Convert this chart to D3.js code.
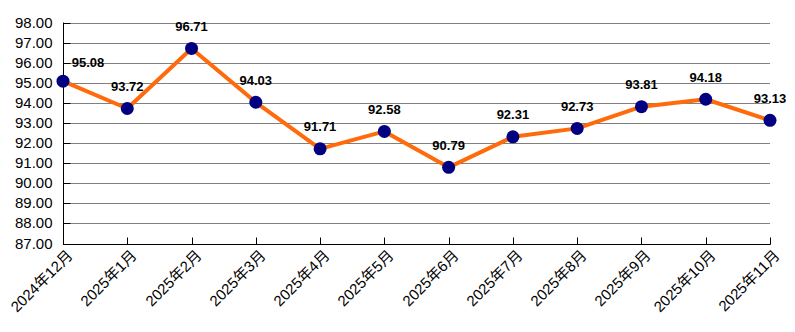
<!DOCTYPE html>
<html>
<head>
<meta charset="utf-8">
<script src="https://cdn.jsdelivr.net/npm/d3@7"></script>
<style>
  html, body { margin: 0; padding: 0; background: #fff; }
  svg { display: block; }
  text { font-family: "Liberation Sans", Arial, "Noto Sans CJK SC", sans-serif; }
</style>
</head>
<body>
<svg id="chart" width="795" height="332"></svg>
<script>
// Monthly index values
const categories = ["2024年12月", "2025年1月", "2025年2月", "2025年3月", "2025年4月", "2025年5月",
  "2025年6月", "2025年7月", "2025年8月", "2025年9月", "2025年10月", "2025年11月"];
const values = [95.08, 93.72, 96.71, 94.03, 91.71, 92.58, 90.79, 92.31, 92.73, 93.81, 94.18, 93.13];
const yTicks = [87, 88, 89, 90, 91, 92, 93, 94, 95, 96, 97, 98];

const svg = d3.select("#chart");
const plotLeft = 63, plotRight = 770, plotTop = 22.5, plotBottom = 243.5;

const x = d3.scalePoint().domain(categories).range([plotLeft, plotRight]);
const y = d3.scaleLinear().domain([87, 98]).range([plotBottom, plotTop]);

// Horizontal gridlines
svg.append("g")
  .selectAll("line")
  .data(yTicks.filter(d => d !== 87))
  .join("line")
  .attr("x1", plotLeft).attr("x2", plotRight)
  .attr("y1", d => Math.round(y(d)) + 0.5).attr("y2", d => Math.round(y(d)) + 0.5)
  .attr("stroke", "#808080").attr("stroke-width", 1);

// Y axis: inward ticks, labels on the left
const yAxis = svg.append("g")
  .attr("transform", `translate(${plotLeft + 0.5},0)`)
  .call(d3.axisLeft(y).tickValues(yTicks).tickSize(-7).tickPadding(18).tickFormat(d3.format(".2f")));
yAxis.selectAll(".tick").attr("transform", d => `translate(0,${Math.round(y(d)) + 0.5})`);
yAxis.selectAll("line").attr("stroke", "#000");
yAxis.select(".domain").attr("stroke", "#000").attr("d", `M0,${plotTop}V${plotBottom + 0.5}`);
yAxis.selectAll("text").attr("font-size", 15).attr("fill", "#000")
  .attr("x", -11);

// X axis: inward ticks, rotated labels
const xAxis = svg.append("g")
  .attr("transform", `translate(0,${Math.round(plotBottom) + 0.5})`)
  .call(d3.axisBottom(x).tickSize(-7).tickSizeOuter(0).tickPadding(0));
xAxis.selectAll(".tick").attr("transform", d => `translate(${Math.round(x(d)) + 0.5},0)`);
xAxis.selectAll("line").attr("stroke", "#000");
xAxis.select(".domain").attr("stroke", "#000").attr("d", `M${plotLeft},0H${plotRight + 0.5}`);
xAxis.selectAll("text")
  .attr("font-size", 15).attr("fill", "#000")
  .attr("text-anchor", "end")
  .attr("dy", null).attr("y", null)
  .attr("transform", "translate(10,12) rotate(-45)");

// Series line
svg.append("path")
  .datum(values)
  .attr("fill", "none")
  .attr("stroke", "#FF6A0A")
  .attr("stroke-width", 4)
  .attr("stroke-linejoin", "round")
  .attr("d", d3.line().x((d, i) => x(categories[i])).y(d => y(d)));

// Markers
svg.append("g")
  .selectAll("circle")
  .data(values)
  .join("circle")
  .attr("cx", (d, i) => x(categories[i]))
  .attr("cy", d => y(d))
  .attr("r", 6.5)
  .attr("fill", "#000080");

// Value labels
svg.append("g")
  .selectAll("text")
  .data(values)
  .join("text")
  .attr("x", (d, i) => x(categories[i]) + (i === 0 ? 25 : 0))
  .attr("y", (d, i) => y(d) - (i === 0 ? 14 : 17.5))
  .attr("text-anchor", "middle")
  .attr("font-size", 13)
  .attr("font-weight", "bold")
  .attr("fill", "#000")
  .text(d => d3.format(".2f")(d));
</script>
</body>
</html>
